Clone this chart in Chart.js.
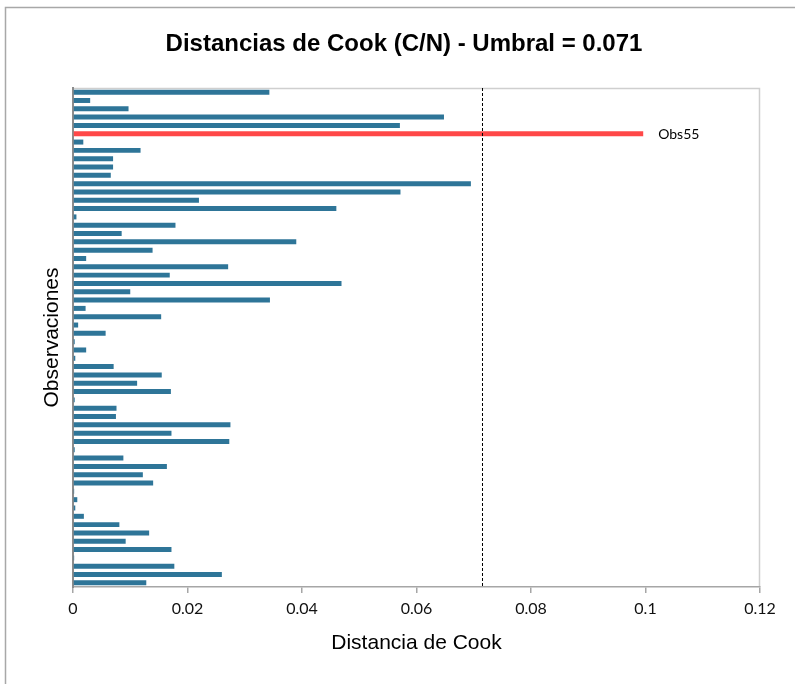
<!DOCTYPE html>
<html>
<head>
<meta charset="utf-8">
<title>Distancias de Cook</title>
<script src="https://cdn.jsdelivr.net/npm/chart.js@4.4.0/dist/chart.umd.min.js"></script>
<style>
    html, body { margin: 0; padding: 0; background: #fff; }
    #graficoCook { display: block; }
</style>
</head>
<body>
<canvas id="graficoCook" width="795" height="684"></canvas>
<script>
// Observaciones Obs1..Obs60 (Obs1 queda abajo, como en Excel)
const observaciones = [];
for (let i = 1; i <= 60; i++) observaciones.push('Obs' + i);

// Distancia de Cook de cada observación
const distancias = [
    0.0128, 0.0260, 0.0177, 0.0002, 0.0172, 0.0092, 0.0133, 0.0081, 0.0019, 0.0004,
    0.00075, 0.0002, 0.0140, 0.0122, 0.0164, 0.0088, 0.0003, 0.0273, 0.0172, 0.0275,
    0.0075, 0.0076, 0.0003, 0.0171, 0.0112, 0.0155, 0.0071, 0.0004, 0.0023, 0.0003,
    0.0057, 0.0009, 0.0154, 0.0022, 0.0344, 0.0100, 0.0469, 0.0169, 0.0271, 0.0023,
    0.0139, 0.0390, 0.0085, 0.0179, 0.0006, 0.0460, 0.0220, 0.0572, 0.0695, 0.0066,
    0.0070, 0.0070, 0.0118, 0.0018, 0.0996, 0.0571, 0.0648, 0.0097, 0.0030, 0.0343
];

const umbral = 0.0714;
const ticksX = [0, 0.02, 0.04, 0.06, 0.08, 0.1, 0.12];
const titulo = 'Distancias de Cook (C/N) - Umbral = 0.071';

const colorNormal = '#2E7598';
const colorAlto = '#FF4848';

// Marco exterior y borde del área de trazado
const marcoPlugin = {
    id: 'marco',
    beforeDraw(chart) {
        const ctx = chart.ctx;
        const area = chart.chartArea;
        ctx.save();
        ctx.fillStyle = '#fff';
        ctx.fillRect(0, 0, chart.width, chart.height);
        ctx.strokeStyle = '#a8a8a8';
        ctx.lineWidth = 1.5;
        ctx.beginPath();
        ctx.moveTo(5.5, chart.height);
        ctx.lineTo(5.5, 7.5);
        ctx.lineTo(chart.width, 7.5);
        ctx.stroke();
        ctx.strokeStyle = '#cfcfcf';
        ctx.beginPath();
        ctx.moveTo(area.left, area.top + 0.5);
        ctx.lineTo(area.right - 0.5, area.top + 0.5);
        ctx.lineTo(area.right - 0.5, area.bottom);
        ctx.stroke();
        ctx.restore();
    },
    afterDraw(chart) {
        const ctx = chart.ctx;
        ctx.save();
        ctx.fillStyle = '#000';
        ctx.font = 'bold 24px "Liberation Sans", Arial, sans-serif';
        ctx.textAlign = 'center';
        ctx.textBaseline = 'middle';
        ctx.fillText(titulo, 404, 44);
        ctx.restore();
    }
};

// Línea del umbral y etiqueta de las observaciones que lo superan
const umbralPlugin = {
    id: 'umbral',
    afterDatasetsDraw(chart) {
        const ctx = chart.ctx;
        const area = chart.chartArea;
        const x = Math.round(chart.scales.x.getPixelForValue(umbral)) + 0.5;
        ctx.save();
        ctx.strokeStyle = '#000';
        ctx.lineWidth = 1;
        ctx.setLineDash([3, 2]);
        ctx.beginPath();
        ctx.moveTo(x, area.top);
        ctx.lineTo(x, area.bottom);
        ctx.stroke();
        ctx.setLineDash([]);

        const barras = chart.getDatasetMeta(0).data;
        ctx.fillStyle = '#000';
        ctx.font = '14px Lato, "Open Sans", sans-serif';
        ctx.textAlign = 'left';
        ctx.textBaseline = 'middle';
        distancias.forEach((d, i) => {
            if (d > umbral) {
                ctx.fillText(observaciones[i], barras[i].x + 15, barras[i].y + 1);
            }
        });
        ctx.restore();
    }
};

new Chart(document.getElementById('graficoCook'), {
    type: 'bar',
    data: {
        labels: observaciones,
        datasets: [{
            data: distancias,
            backgroundColor: distancias.map(d => d > umbral ? colorAlto : colorNormal),
            borderWidth: 0,
            barPercentage: 0.6,
            categoryPercentage: 1
        }]
    },
    options: {
        indexAxis: 'y',
        responsive: false,
        animation: false,
        layout: {
            padding: { left: 0, right: 35, top: 88, bottom: 0 }
        },
        scales: {
            x: {
                min: 0,
                max: 0.12,
                afterBuildTicks: scale => {
                    scale.ticks = ticksX.map(v => ({ value: v }));
                },
                afterFit: scale => { scale.height = 97; },
                grid: {
                    display: true,
                    drawOnChartArea: false,
                    drawTicks: true,
                    tickLength: 6,
                    color: '#a6a6a6',
                    lineWidth: 1.5
                },
                border: { display: true, color: '#a6a6a6', width: 1.5 },
                ticks: {
                    padding: 6,
                    color: '#111',
                    font: { family: 'Lato, "Open Sans", sans-serif', size: 16 },
                    callback: v => String(+Number(v).toFixed(2))
                },
                title: {
                    display: true,
                    text: 'Distancia de Cook',
                    color: '#000',
                    font: { family: '"Liberation Sans", Arial, sans-serif', size: 21 },
                    padding: { top: 0, bottom: 28 }
                }
            },
            y: {
                reverse: true,
                afterFit: scale => { scale.width = 73; },
                grid: { display: false },
                border: { display: true, color: '#8c8c8c', width: 2 },
                ticks: { display: false },
                title: {
                    display: true,
                    text: 'Observaciones',
                    color: '#000',
                    font: { family: '"Liberation Sans", Arial, sans-serif', size: 21 },
                    padding: { top: 40, bottom: 0 }
                }
            }
        },
        plugins: {
            legend: { display: false },
            tooltip: { enabled: false }
        }
    },
    plugins: [marcoPlugin, umbralPlugin]
});
</script>
</body>
</html>
